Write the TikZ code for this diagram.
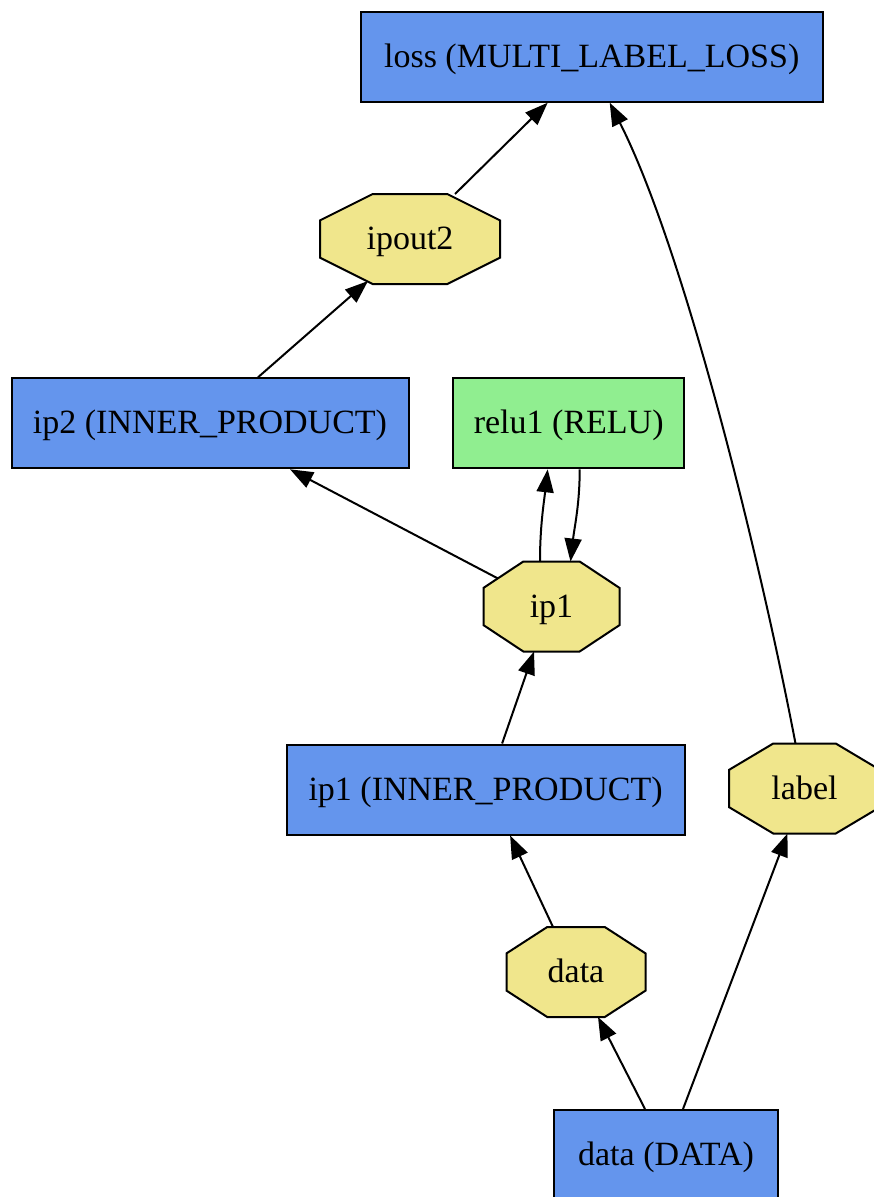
\documentclass[tikz,border=0pt]{standalone}
\usepackage{fontspec}
\setmainfont{Liberation Serif}
\usetikzlibrary{arrows.meta,calc}
\definecolor{cblue}{HTML}{6495ED}
\definecolor{lgreen}{HTML}{90EE90}
\definecolor{khaki}{HTML}{F0E68C}
\tikzset{
  box/.style={draw=black, line width=2pt, fill=cblue, inner sep=0pt, minimum height=90pt,
    text height=21pt, text depth=0pt, font=\fontsize{34}{40}\selectfont},
  gbox/.style={box, fill=lgreen},
  octshape/.style={draw=black, line width=2pt, fill=khaki, line join=miter},
  octlabel/.style={inner sep=0pt, outer sep=0pt, text height=21pt, text depth=0pt,
    font=\fontsize{34}{40}\selectfont},
  edge/.style={line width=2pt, -{Triangle[length=23pt,width=17pt]}}
}
\newcommand\octagonnode[6]{%
  \filldraw[octshape] ({#2-0.207*#4},{#3-#5/2}) -- ({#2+0.207*#4},{#3-#5/2}) --
    ({#2+#4/2},{#3-0.207*#5}) -- ({#2+#4/2},{#3+0.207*#5}) --
    ({#2+0.207*#4},{#3+#5/2}) -- ({#2-0.207*#4},{#3+#5/2}) --
    ({#2-#4/2},{#3+0.207*#5}) -- ({#2-#4/2},{#3-0.207*#5}) -- cycle;
  \node[octlabel, minimum width=#4pt, minimum height=#5pt] (#1) at (#2,#3) {#6};}
\begin{document}
\begin{tikzpicture}[x=1pt,y=-1pt]
\useasboundingbox (0,0) rectangle (874,1197);
\clip (0,0) rectangle (874,1197);
% nodes
\node[box, minimum width=462pt] (loss) at (591.7,56.7) {loss (MULTI\_LABEL\_LOSS)};
\octagonnode{ipout2}{410}{239}{180}{90}{ipout2}
\node[box, minimum width=397pt] (ip2) at (210,423.3) {ip2 (INNER\_PRODUCT)};
\node[gbox, minimum width=231pt] (relu1) at (568.7,423.3) {relu1 (RELU)};
\octagonnode{ip1}{551.5}{606.5}{136}{90}{ip1}
\node[box, minimum width=398pt] (ip1IP) at (485.6,789.5) {ip1 (INNER\_PRODUCT)};
\octagonnode{label}{804.5}{788.5}{151}{90}{label}
\octagonnode{data}{576}{972}{139}{90}{data}
\node[box, minimum width=224pt] (DATA) at (666,1155) {data (DATA)};
% edges
\draw[edge] ($(ipout2)+(45,-45)$) -- ($(loss.south)+(-44,0)$);
\draw[edge] ($(label.north)+(-9,0)$) .. controls +(-35,-183) and +(75,148) .. ($(loss.south)+(18,0)$);
\draw[edge] ($(ip2.north)+(48,0)$) -- ($(ipout2)+(-42,42)$);
\draw[edge] ($(ip1)+(-53.5,-28)$) -- ($(ip2.south)+(80,0)$);
\draw[edge] ($(ip1.north)+(-11.5,0)$) .. controls +(0,-35) and +(-4,35) .. ($(relu1.south)+(-21,0)$);
\draw[edge] ($(relu1.south)+(11,0)$) .. controls +(0,35) and +(4,-35) .. ($(ip1.north)+(19,0)$);
\draw[edge] ($(ip1IP.north)+(16.5,0)$) -- ($(ip1.south)+(-17.5,0)$);
\draw[edge] ($(data.north)+(-23,0)$) -- ($(ip1IP.south)+(24.5,0)$);
\draw[edge] ($(DATA.north)+(-21,0)$) -- ($(data.south)+(22,0)$);
\draw[edge] ($(DATA.north)+(17,0)$) -- ($(label.south)+(-17,0)$);
\end{tikzpicture}
\end{document}
